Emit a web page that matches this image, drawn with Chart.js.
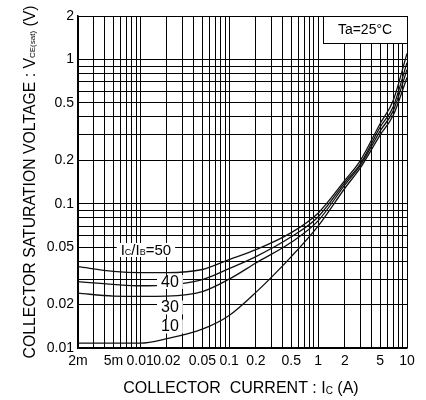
<!DOCTYPE html>
<html><head><meta charset="utf-8">
<script src="https://cdn.jsdelivr.net/npm/chart.js@4"></script>
<style>html,body{margin:0;padding:0;background:#fff}</style>
</head><body>
<canvas id="c" width="426" height="400"></canvas>
<script>
// Collector current Ic (A)
const currents = [0.002, 0.005, 0.01, 0.02, 0.05, 0.1, 0.2, 0.5, 1, 2, 3, 5, 7, 10];
// VCE(sat) (V) for each Ic/IB ratio
const vce50 = [0.0366, 0.034, 0.0333, 0.0333, 0.035, 0.041, 0.048, 0.063, 0.086, 0.145, 0.2, 0.36, 0.52, 1.1];
const vce40 = [0.0288, 0.0276, 0.027, 0.0273, 0.0298, 0.0355, 0.043, 0.059, 0.081, 0.14, 0.19, 0.34, 0.47, 0.95];
const vce30 = [0.024, 0.0229, 0.0228, 0.0229, 0.0246, 0.030, 0.0388, 0.054, 0.076, 0.135, 0.185, 0.32, 0.44, 0.85];
const vce10 = [0.0108, 0.0108, 0.0108, 0.0116, 0.0135, 0.0168, 0.0243, 0.043, 0.07, 0.128, 0.178, 0.3, 0.41, 0.75];
const seriesNames = ['50', '40', '30', '10'];

// grid values
const xGrid = [0.002,0.003,0.004,0.005,0.006,0.007,0.008,0.009,
  0.01,0.02,0.03,0.04,0.05,0.06,0.07,0.08,0.09,
  0.1,0.2,0.3,0.4,0.5,0.6,0.7,0.8,0.9,
  1,2,3,4,5,6,7,8,9,10];
const yGrid = [0.01,0.02,0.03,0.04,0.05,0.06,0.07,0.08,0.09,
  0.1,0.2,0.3,0.4,0.5,0.6,0.7,0.8,0.9,1,2];
// labelled ticks
const xTickValues = [0.002,0.005,0.01,0.02,0.05,0.1,0.2,0.5,1,2,5,10];
const xTickLabels = ['2m','5m','0.01','0.02','0.05','0.1','0.2','0.5','1','2','5','10'];
const yTickValues = [0.01,0.02,0.05,0.1,0.2,0.5,1,2];
const yTickLabels = ['0.01','0.02','0.05','0.1','0.2','0.5','1','2'];

// curve label anchors (data units)
const curveLabelX = [0.0116, 0.0216, 0.0216, 0.0216];
const curveLabelY = [0.0478, 0.0287, 0.0191, 0.0141];

function findLabel(vals, labels, v) {
  const i = vals.findIndex(t => Math.abs(t - v) / t < 1e-6);
  return i >= 0 ? labels[i] : '';
}

function richWidth(ctx, parts) {
  let w = 0;
  for (const p of parts) { ctx.font = p.s + 'px "Liberation Sans", Arial, sans-serif'; w += ctx.measureText(p.t).width; }
  return w;
}
function drawRich(ctx, parts, cx, cy) {
  const w = richWidth(ctx, parts);
  let x = cx - w / 2;
  ctx.textBaseline = 'middle';
  ctx.textAlign = 'left';
  for (const p of parts) {
    ctx.font = p.s + 'px "Liberation Sans", Arial, sans-serif';
    ctx.fillText(p.t, x, cy + (p.dy || 0));
    x += ctx.measureText(p.t).width;
  }
  return w;
}

const annot = {
  id: 'annot',
  afterDatasetsDraw(chart) {
    const ctx = chart.ctx, xs = chart.scales.x, ys = chart.scales.y, a = chart.chartArea;
    ctx.save();
    ctx.fillStyle = '#000';
    // curve labels
    const labelParts = [
      [{t:'I',s:15},{t:'C',s:9,dy:2},{t:'/I',s:15},{t:'B',s:9,dy:2},{t:'=50',s:15}],
      [{t:'40',s:16}], [{t:'30',s:16}], [{t:'10',s:16}]
    ];
    labelParts.forEach((parts, i) => {
      const px = xs.getPixelForValue(curveLabelX[i]);
      const py = ys.getPixelForValue(curveLabelY[i]);
      const w = richWidth(ctx, parts);
      ctx.fillStyle = '#fff';
      ctx.fillRect(px - w / 2 - 4, py - 7, w + 8, 14);
      ctx.fillStyle = '#000';
      drawRich(ctx, parts, px, py + 0.5);
    });
    // Ta box
    ctx.fillStyle = '#fff';
    ctx.fillRect(a.right - 84, a.top, 84, 27);
    ctx.strokeStyle = '#000';
    ctx.lineWidth = 1;
    ctx.strokeRect(a.right - 84 + 0.5, a.top + 0.5, 84, 27);
    ctx.fillStyle = '#000';
    drawRich(ctx, [{t:'Ta=25°C',s:14}], a.right - 42, a.top + 14);
    // axis titles
    drawRich(ctx, [{t:'COLLECTOR  CURRENT : I',s:16},{t:'C',s:10,dy:2},{t:' (A)',s:16}], 241, 389);
    ctx.translate(31, 182);
    ctx.rotate(-Math.PI / 2);
    drawRich(ctx, [{t:'COLLECTOR SATURATION VOLTAGE : V',s:15.8},{t:'CE(sat)',s:8,dy:2},{t:' (V)',s:15.8}], 0, 0);
    ctx.restore();
  }
};

const lineDs = (label, data) => ({
  label, data: currents.map((c, i) => ({x: c, y: data[i]})),
  borderColor: '#111', borderWidth: 1.3, pointRadius: 0,
  cubicInterpolationMode: 'monotone', fill: false
});

new Chart(document.getElementById('c'), {
  type: 'line',
  data: {
    datasets: [
      lineDs(seriesNames[0], vce50),
      lineDs(seriesNames[1], vce40),
      lineDs(seriesNames[2], vce30),
      lineDs(seriesNames[3], vce10)
    ]
  },
  options: {
    responsive: false, animation: false,
    layout: { padding: { left: 0, top: 16, right: 19, bottom: 0 } },
    plugins: { legend: { display: false }, tooltip: { enabled: false } },
    scales: {
      x: {
        type: 'logarithmic', min: 0.002, max: 10,
        afterBuildTicks: s => { s.ticks = xGrid.map(v => ({value: v})); },
        afterFit: s => { s.height = 52; },
        grid: { color: '#000', lineWidth: 1, drawTicks: false },
        border: { color: '#000', width: 1.5 },
        ticks: {
          autoSkip: false, maxRotation: 0, padding: 5, color: '#000',
          font: { family: '"Liberation Sans Narrow", "Liberation Sans", Arial', size: 14 },
          callback: v => findLabel(xTickValues, xTickLabels, v)
        }
      },
      y: {
        type: 'logarithmic', min: 0.01, max: 2,
        afterBuildTicks: s => { s.ticks = yGrid.map(v => ({value: v})); },
        afterFit: s => { s.width = 78; },
        grid: { color: '#000', lineWidth: 1, drawTicks: false },
        border: { color: '#000', width: 1.5 },
        ticks: {
          autoSkip: false, padding: 4, color: '#000',
          font: { family: '"Liberation Sans", Arial', size: 14 },
          callback: v => findLabel(yTickValues, yTickLabels, v)
        }
      }
    }
  },
  plugins: [annot]
});
</script>
</body></html>
